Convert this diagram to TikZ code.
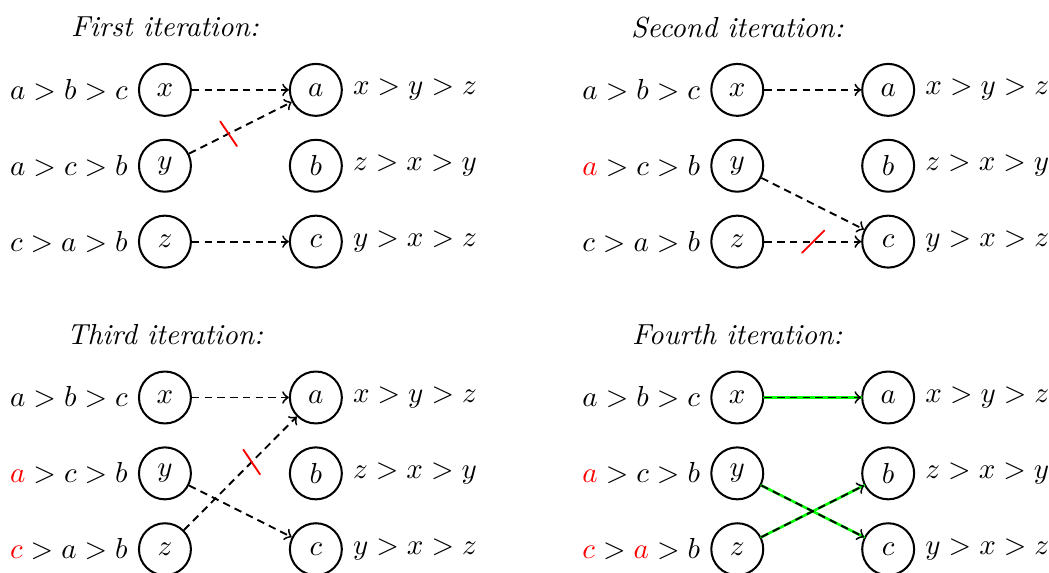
\documentclass[tikz,border=0pt]{standalone}
\newcommand{\hl}[1]{\textcolor{red}{#1}}
\begin{document}
\begin{tikzpicture}[line cap=round, line join=round,
		vert/.style={circle, draw, line width=0.7pt, minimum size=0.63cm, inner sep=0pt},
		arr/.style={->, line width=0.65pt, dash pattern=on 2.6pt off 1.8pt, line cap=butt},
		cut/.style={red, line width=0.65pt},
		ok/.style={green, line width=0.9pt}]
	\useasboundingbox (0,0) rectangle (12.72,-6.94);
	\foreach \p/\dx/\dy/\iter/\lx/\ly/\lz in {
		1/0/0/First/{$a>b>c$}/{$a>c>b$}/{$c>a>b$},
		2/6.94/0/Second/{$a>b>c$}/{$\hl{a}>c>b$}/{$c>a>b$},
		3/0/-3.73/Third/{$a>b>c$}/{$\hl{a}>c>b$}/{$\hl{c}>a>b$},
		4/6.94/-3.73/Fourth/{$a>b>c$}/{$\hl{a}>c>b$}/{$\hl{c}>\hl{a}>b$}} {
		\begin{scope}[shift={(\dx,\dy)}]
			\node (t\p) at (2,-0.33) {\textit{\iter\ iteration:}};
			\node[vert] (x\p) at (2,-1.09) {$x$};
			\node[vert] (y\p) at (2,-2.01) {$y$};
			\node[vert] (z\p) at (2,-2.93) {$z$};
			\node[vert] (a\p) at (3.83,-1.09) {$a$};
			\node[vert] (b\p) at (3.83,-2.01) {$b$};
			\node[vert] (c\p) at (3.83,-2.93) {$c$};
			\node[anchor=east] (lx\p) at (x\p.west) {\lx};
			\node[anchor=east] (ly\p) at (y\p.west) {\ly};
			\node[anchor=east] (lz\p) at (z\p.west) {\lz};
			\node[anchor=west] (ra\p) at (a\p.east) {$x>y>z$};
			\node[anchor=west] (rb\p) at (b\p.east) {$z>x>y$};
			\node[anchor=west] (rc\p) at (c\p.east) {$y>x>z$};
		\end{scope}
	}
	% first iteration
	\draw[arr] (x1) -- (a1);
	\draw[arr] (y1) -- coordinate[pos=0.385] (m1) (a1);
	\draw[arr] (z1) -- (c1);
	\draw[cut] (m1) ++(124:0.18) -- ++(-56:0.36);
	% second iteration
	\draw[arr] (x2) -- (a2);
	\draw[arr] (y2) -- (c2);
	\draw[arr] (z2) -- coordinate[pos=0.505] (m2) (c2);
	\draw[cut] (m2) ++(225:0.19) -- ++(45:0.38);
	% third iteration
	\draw[arr] (x3) -- (a3);
	\draw[arr] (y3) -- (c3);
	\draw[arr] (z3) -- coordinate[pos=0.6] (m3) (a3);
	\draw[cut] (m3) ++(124:0.18) -- ++(-56:0.36);
	% fourth iteration
	\draw[ok] (x4) -- (a4);
	\draw[ok] (y4) -- (c4);
	\draw[ok] (z4) -- (b4);
	\draw[arr] (x4) -- (a4);
	\draw[arr] (y4) -- (c4);
	\draw[arr] (z4) -- (b4);
\end{tikzpicture}
\end{document}
